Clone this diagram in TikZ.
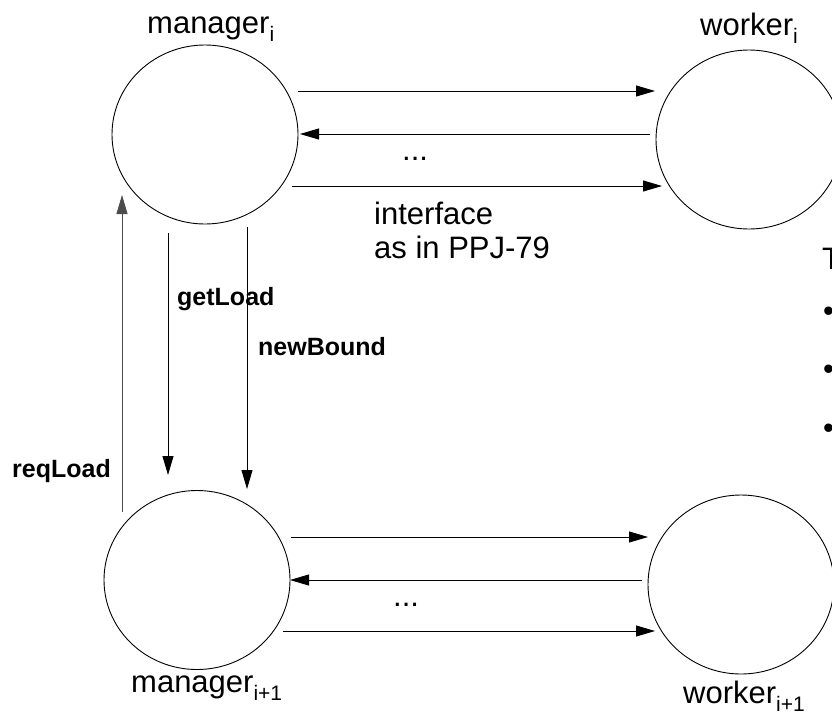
\documentclass[tikz,border=0pt]{standalone}
\usepackage{fontspec}
\setmainfont{Liberation Sans}
\usetikzlibrary{shapes.geometric,arrows.meta}
\newcommand{\sbs}[1]{\raisebox{-0.28em}{\fontsize{21}{21}\selectfont #1}}
\begin{document}
\begin{tikzpicture}[x=1pt,y=-1pt,
  proc/.style={draw, ellipse, line width=0.9pt, minimum width=186pt, minimum height=179pt, inner sep=0pt},
  lbl/.style={font=\fontsize{31}{27}\selectfont, inner sep=0pt, anchor=base west},
  blbl/.style={font=\fontsize{25}{28}\selectfont\bfseries, inner sep=0pt, anchor=base west},
  msg/.style={line width=0.9pt, -{Triangle[length=19pt,width=11pt]}},
]
\useasboundingbox (0,0) rectangle (832,715);
% processes
\node[proc] (m1) at (205,134.5) {};
\node[proc] (w1) at (749,139.5) {};
\node[proc] (m2) at (197,580) {};
\node[proc] (w2) at (741,584.5) {};
% process labels
\node[lbl] (lm1) at (147,33) {manager\sbs{i}};
\node[lbl] (lw1) at (700,35) {worker\sbs{i}};
\node[lbl] (lm2) at (131,692) {manager\sbs{i+1}};
\node[lbl] (lw2) at (683,703) {worker\sbs{i+1}};
% interface arrows, top
\coordinate (t1s) at (298,91);  \coordinate (t1e) at (655,91);
\coordinate (t2s) at (650,134); \coordinate (t2e) at (300,134);
\coordinate (t3s) at (292,186); \coordinate (t3e) at (662,186);
\draw[msg] (t1s) -- (t1e);
\draw[msg] (t2s) -- (t2e);
\draw[msg] (t3s) -- (t3e);
\node[lbl] (dots1) at (402,160) {...};
\node[lbl] (if1) at (374,224) {interface};
\node[lbl] (if2) at (374,258) {as in PPJ-79};
% interface arrows, bottom
\coordinate (b1s) at (291,537); \coordinate (b1e) at (648,537);
\coordinate (b2s) at (642,580); \coordinate (b2e) at (290,580);
\coordinate (b3s) at (283,631); \coordinate (b3e) at (655,631);
\draw[msg] (b1s) -- (b1e);
\draw[msg] (b2s) -- (b2e);
\draw[msg] (b3s) -- (b3e);
\node[lbl] (dots2) at (393,606) {...};
% manager to manager
\coordinate (rqs) at (122,512); \coordinate (rqe) at (122,195);
\coordinate (gls) at (168,233); \coordinate (gle) at (168,475);
\coordinate (nbs) at (247,227); \coordinate (nbe) at (247,489);
\draw[msg, black!70] (rqs) -- (rqe);
\draw[msg] (gls) -- (gle);
\draw[msg] (nbs) -- (nbe);
\node[blbl] (lgl) at (177,305) {getLoad};
\node[blbl] (lnb) at (258,355) {newBound};
\node[blbl] (lrq) at (12,477) {reqLoad};
% cut-off text at right edge
\node[lbl] (tt) at (822,269) {T};
\node[lbl] (bu1) at (823,321) {•};
\node[lbl] (bu2) at (823,379) {•};
\node[lbl] (bu3) at (823,438) {•};
\end{tikzpicture}
\end{document}
